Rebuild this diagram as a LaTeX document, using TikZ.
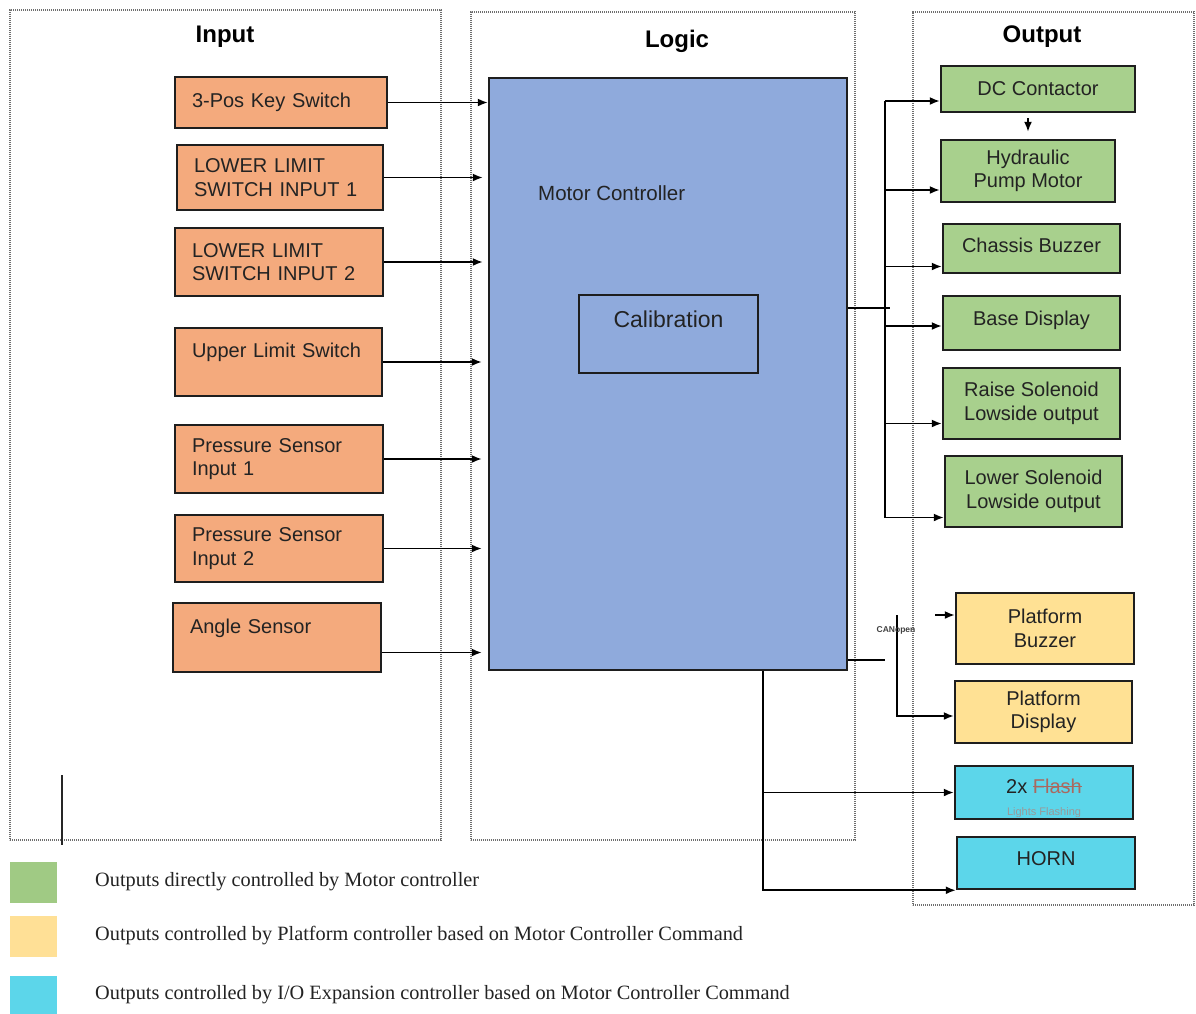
\documentclass[tikz,border=0pt]{standalone}
\usepackage{fontspec}
\setmainfont{Liberation Serif}
\newfontfamily\arialf{Liberation Sans}
\usetikzlibrary{arrows.meta}
\newcommand\mystrike[1]{\setbox0\hbox{#1}\rlap{\rule[0.32em]{\wd0}{1.3pt}}\box0}
\definecolor{inorange}{RGB}{244,170,125}
\definecolor{mcblue}{RGB}{143,170,220}
\definecolor{outgreen}{RGB}{168,208,141}
\definecolor{outyellow}{RGB}{255,225,148}
\definecolor{outcyan}{RGB}{92,214,234}
\definecolor{leggreen}{RGB}{160,202,132}
\definecolor{legyellow}{RGB}{255,224,150}
\definecolor{legcyan}{RGB}{92,214,234}
\definecolor{boxline}{RGB}{30,30,30}
\definecolor{txt}{RGB}{35,35,35}
\definecolor{flashc}{RGB}{170,105,95}
\definecolor{panelc}{RGB}{110,110,110}
\begin{document}
\begin{tikzpicture}[x=1pt,y=-1pt,
  panel/.style={draw=panelc, line width=1.2pt, dash pattern=on 1.2pt off 0.8pt, inner sep=0pt},
  title/.style={font=\arialf\bfseries\fontsize{24}{28}\selectfont, text=black},
  box/.style={draw=boxline, line width=2.5pt, inner sep=0pt, font=\arialf\fontsize{20}{23.5}\selectfont, text=txt},
  inbox/.style={box, fill=inorange, align=left, inner xsep=17pt},
  outbox/.style={box, fill=outgreen, align=center},
  ybox/.style={box, fill=outyellow, align=center},
  cbox/.style={box, fill=outcyan, align=center},
  arr/.style={-{Latex[length=10pt,width=8pt]}, line width=1.6pt, draw=black},
  wire/.style={line width=1.6pt, draw=black},
  legsq/.style={minimum width=47pt, minimum height=41pt, inner sep=0pt},
  legtxt/.style={anchor=west, font=\fontsize{20.3}{23}\selectfont, text=txt, inner sep=0pt}
]
\useasboundingbox (0,0) rectangle (1196,1013);
\fill[white] (0,0) rectangle (1196,1013);

% panels
\node[panel, minimum width=431pt, minimum height=830pt] (pin) at (225.5,425) {};
\node[panel, minimum width=384pt, minimum height=828pt] (plog) at (663,426) {};
\node[panel, minimum width=281pt, minimum height=893pt] (pout) at (1053.5,458.5) {};
\node[title] (tin) at (225,37) {Input};
\node[title] (tlog) at (677,41) {Logic};
\node[title] (tout) at (1042,37) {Output};

% input boxes
\node[inbox, text width=178pt, minimum width=212pt, minimum height=51pt] (ks) at (281,102.5) {3-Pos Key Switch};
\node[inbox, text width=172pt, minimum width=206pt, minimum height=65pt] (ll1) at (280,177.5) {LOWER LIMIT\\SWITCH INPUT 1};
\node[inbox, text width=174pt, minimum width=208pt, minimum height=68pt] (ll2) at (279,262) {LOWER LIMIT\\SWITCH INPUT 2};
\node[inbox, text width=173pt, minimum width=207pt, minimum height=68pt] (ul) at (278.5,362) {Upper Limit Switch\\\mbox{}};
\node[inbox, text width=174pt, minimum width=208pt, minimum height=68pt] (ps1) at (279,459) {Pressure Sensor\\Input 1};
\node[inbox, text width=174pt, minimum width=208pt, minimum height=67pt] (ps2) at (279,548.5) {Pressure Sensor\\Input 2};
\node[inbox, text width=174pt, minimum width=208pt, minimum height=69pt] (ang) at (277,637.5) {Angle Sensor\\\mbox{}};

% motor controller
\node[box, fill=mcblue, minimum width=358pt, minimum height=592pt] (mc) at (668,374) {};
\node[font=\arialf\fontsize{20.5}{23.5}\selectfont, text=txt, anchor=west, inner sep=0pt] (mct) at (538,193) {Motor Controller};
\node[draw=boxline, line width=1.5pt, fill=mcblue, minimum width=179pt, minimum height=78pt, inner sep=0pt,
      font=\arialf\fontsize{23}{27}\selectfont, text=txt, text height=17pt, text depth=31pt] (cal) at (668.5,334) {Calibration};

% input arrows
\draw[arr] (ks.east) -- (ks.east -| mc.west);
\draw[arr] (ll1.east) -- ([xshift=-5pt]ll1.east -| mc.west);
\draw[arr] (ll2.east) -- ([xshift=-5pt]ll2.east -| mc.west);
\draw[arr] (ul.east) -- ([xshift=-6pt]ul.east -| mc.west);
\draw[arr] (ps1.east) -- ([xshift=-6pt]ps1.east -| mc.west);
\draw[arr] (ps2.east) -- ([xshift=-6pt]ps2.east -| mc.west);
\coordinate (angout) at ([yshift=-15pt]ang.east);
\draw[arr] (angout) -- ([xshift=-6pt]angout -| mc.west);

% output boxes
\node[outbox, minimum width=194pt, minimum height=46pt] (dc) at (1038,89) {DC Contactor};
\node[outbox, minimum width=174pt, minimum height=62pt] (hyd) at (1028,171) {Hydraulic\\Pump Motor};
\node[outbox, minimum width=177pt, minimum height=49pt, text height=14pt, text depth=6pt] (cb) at (1031.5,248.5) {Chassis Buzzer};
\node[outbox, minimum width=177pt, minimum height=54pt, text height=14pt, text depth=10pt] (bd) at (1031.5,323) {Base Display};
\node[outbox, minimum width=177pt, minimum height=71pt] (rs) at (1031.5,403.5) {Raise Solenoid\\Lowside output};
\node[outbox, minimum width=177pt, minimum height=71pt] (ls) at (1033.5,491.5) {Lower Solenoid\\Lowside output};
\node[ybox, minimum width=178pt, minimum height=71pt] (pb) at (1045,628.5) {Platform\\Buzzer};
\node[ybox, minimum width=177pt, minimum height=62pt] (pd) at (1043.5,712) {Platform\\Display};
\node[cbox, minimum width=178pt, minimum height=53pt, text height=14pt, text depth=12pt] (fl) at (1044,792.5) {2x {\color{flashc}\mystrike{Flash}}};
\begin{scope}
\clip (955,766) rectangle (1133,816);
\node[font=\arialf\fontsize{11}{12}\selectfont, text=gray!80, inner sep=0pt] (flsub) at (1044,813) {Lights Flashing};
\end{scope}
\node[cbox, minimum width=178pt, minimum height=52pt, text height=14pt, text depth=10pt] (horn) at (1046,863) {HORN};

% DC contactor -> hydraulic
\draw[arr, shorten <=5pt, shorten >=7pt] (hyd.north |- dc.south) -- (hyd.north);

% output bus
\coordinate (busx) at (885,0);
\coordinate (mcout) at (890,308);
\draw[wire] (mc.east |- mcout) -- (mcout);
\coordinate (dcin) at ([yshift=-12pt]dc.west);
\coordinate (hydin) at ([yshift=-19pt]hyd.west);
\coordinate (cbin) at ([yshift=-18pt]cb.west);
\coordinate (bdin) at ([yshift=-3pt]bd.west);
\coordinate (rsin) at ([yshift=-20pt]rs.west);
\coordinate (lsin) at ([yshift=-26pt]ls.west);
\draw[wire] (busx |- dcin) -- (busx |- lsin);
\draw[arr] (busx |- dcin) -- (dcin);
\draw[arr] (busx |- hydin) -- (hydin);
\draw[arr] (busx |- cbin) -- (cbin);
\draw[arr] (busx |- bdin) -- (bdin);
\draw[arr] (busx |- rsin) -- (rsin);
\draw[arr] (busx |- lsin) -- (lsin);

% CANopen
\coordinate (canA) at (885,660);
\draw[wire] (mc.east |- canA) -- (canA);
\coordinate (canT) at (897,615);
\coordinate (pdin) at ([yshift=-4pt]pd.west);
\draw[arr] (canT) |- (pdin);
\coordinate (pbs) at (935,615);
\draw[arr] (pbs) -- (pbs -| pb.west);
\node[font=\arialf\bfseries\fontsize{8.5}{10}\selectfont, text=black!75, inner sep=0pt] (canlbl) at (896,630) {CANopen};

% bottom outputs
\coordinate (bx) at (763,0);
\draw[arr] (mc.south -| bx) |- (horn.south west);
\draw[arr] (bx |- fl.west) -- (fl.west);

% stray line at left
\coordinate (lv1) at (62,775);
\coordinate (lv2) at (62,845);
\draw[line width=2pt, draw=black!85] (lv1) -- (lv2);

% legend
\node[legsq, fill=leggreen] (lg1) at (33.5,882.5) {};
\node[legsq, fill=legyellow] (lg2) at (33.5,936) {};
\node[legsq, fill=legcyan] (lg3) at (33.5,996) {};
\node[legtxt] (lt1) at (95,882) {Outputs directly controlled by Motor controller};
\node[legtxt] (lt2) at (95,936) {Outputs controlled by Platform controller based on Motor Controller Command};
\node[legtxt] (lt3) at (95,995) {Outputs controlled by I/O Expansion controller based on Motor Controller Command};
\end{tikzpicture}
\end{document}
